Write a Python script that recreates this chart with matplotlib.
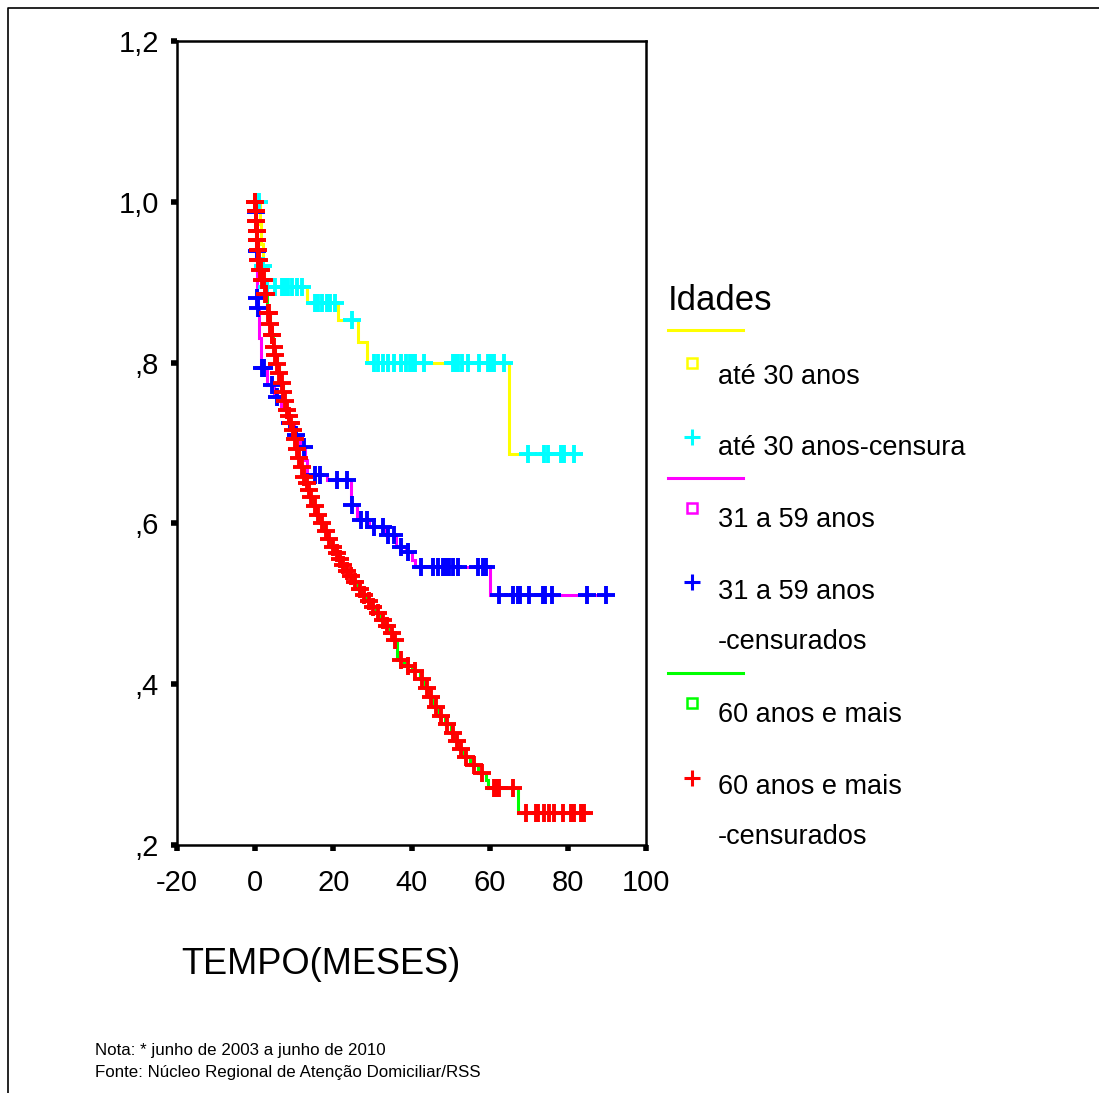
import numpy as np
import matplotlib
matplotlib.use("Agg")
import matplotlib.pyplot as plt

plt.rcParams['font.family'] = ['Liberation Sans', 'DejaVu Sans']

# ---------------- data ----------------
x_ticks = [-20, 0, 20, 40, 60, 80, 100]
x_tick_labels = ["-20", "0", "20", "40", "60", "80", "100"]
y_ticks = [1.2, 1.0, 0.8, 0.6, 0.4, 0.2]
y_tick_labels = ["1,2", "1,0", ",8", ",6", ",4", ",2"]

# até 30 anos : event times and survival after each event
g1_event_t = [1.3, 1.6, 1.9, 2.2, 13.3, 21.3, 26.2, 28.5, 64.9]
g1_event_s = [0.973, 0.947, 0.920, 0.894, 0.874, 0.853, 0.826, 0.800, 0.686]
g1_cens_t = [1.1, 2.0, 3.1, 5.1, 6.9, 7.7, 8.5, 9.5, 10.8, 12.1,
             15.4, 16.2, 17.2, 18.5, 19.2, 20.5, 24.9,
             30.3, 31.5, 32.8, 34.1, 35.4, 37.2, 38.5, 39.7, 40.5, 41.0, 43.1,
             50.5, 51.3, 52.0, 53.0, 54.4, 57.2, 59.5, 60.3, 61.0, 63.6,
             69.7, 73.8, 74.9, 78.2, 79.0, 81.5]

# 31 a 59 anos
g2_event_t = [0.1, 0.2, 0.3, 0.4, 0.5, 0.6, 1.0, 1.5, 3.0, 4.8, 6.5, 8.5,
              10.0, 11.5, 12.8, 13.3, 18.5, 24.4, 26.0, 29.0, 33.5, 36.0,
              38.5, 40.0, 41.0, 60.0]
g2_event_s = [0.987, 0.963, 0.939, 0.910, 0.880, 0.868, 0.830, 0.793, 0.772,
              0.757, 0.741, 0.725, 0.710, 0.695, 0.679, 0.660, 0.654, 0.623,
              0.604, 0.596, 0.586, 0.571, 0.564, 0.555, 0.546, 0.511]
g2_cens_t = [0.15, 0.35, 0.55, 0.8, 1.7, 2.2, 4.4, 5.7, 9.0, 10.5, 12.5,
             15.4, 16.7, 21.0, 23.6, 24.9, 27.0, 28.7, 30.3, 32.8, 34.0,
             35.4, 37.2, 39.0, 42.5, 45.4, 46.7, 48.0, 48.7, 49.5, 50.5,
             51.8, 56.9, 58.2, 59.0, 62.3, 65.9, 67.2, 67.7, 70.0, 73.6,
             74.1, 75.9, 84.9, 89.7]

# 60 anos e mais
g3_event_t = [0.1, 0.2, 0.3, 0.45, 0.6, 0.8, 1.0, 1.6, 2.4, 3.1, 3.7, 4.1,
              4.5, 5.0, 5.5, 6.0, 6.5, 7.0, 7.5, 8.0, 8.5, 9.0, 9.5, 10.0,
              10.5, 11.0, 11.6, 12.3, 12.9, 13.5, 14.0, 14.8, 15.6, 16.5,
              17.5, 18.5, 19.5, 20.5, 21.3, 22.0, 23.0, 24.0, 25.0, 26.2,
              27.3, 28.4, 29.5, 30.8, 32.0, 33.3, 34.6, 35.5, 36.4, 38.0,
              40.0, 42.3, 43.5, 44.5, 45.6, 47.0, 48.5, 50.0, 51.0, 52.2,
              53.3, 55.0, 56.9, 59.0, 59.5, 67.2]
g3_event_s = [0.988, 0.976, 0.964, 0.952, 0.940, 0.928, 0.915, 0.903, 0.885,
              0.862, 0.848, 0.834, 0.820, 0.809, 0.798, 0.787, 0.775, 0.764,
              0.752, 0.741, 0.733, 0.725, 0.716, 0.705, 0.693, 0.681, 0.670,
              0.658, 0.650, 0.641, 0.633, 0.622, 0.611, 0.600, 0.590, 0.581,
              0.571, 0.563, 0.556, 0.548, 0.541, 0.534, 0.527, 0.519, 0.511,
              0.503, 0.496, 0.488, 0.480, 0.472, 0.464, 0.455, 0.430, 0.423,
              0.416, 0.406, 0.395, 0.384, 0.372, 0.361, 0.350, 0.339, 0.329,
              0.319, 0.309, 0.299, 0.289, 0.281, 0.271, 0.240]
g3_cens_t = [0.05, 0.08, 0.15, 0.18, 0.25, 0.28, 0.35, 0.4, 0.5, 0.55, 0.7,
             0.75, 0.85, 0.9, 1.2, 1.4, 1.8, 2.0, 2.2, 2.6, 2.8, 3.2, 3.5,
             3.9, 4.2, 4.4, 4.7, 5.2, 5.7, 6.2, 6.8, 7.2, 7.7, 8.2, 8.7, 9.2,
             9.7, 10.2, 10.8, 11.3, 12.0, 12.6, 13.2, 13.8, 14.4, 15.2, 16.0,
             17.0, 18.0, 19.0, 20.0, 21.0, 21.6, 22.5, 23.5, 24.5, 25.5, 26.7,
             27.8, 29.0, 30.2, 31.4, 32.6, 33.8, 35.0, 35.9, 37.2, 39.0,
             41.0, 42.8, 44.0, 45.0, 46.2, 47.6, 49.2, 50.5, 51.6, 52.7,
             54.0, 56.0, 58.0, 61.0, 62.0, 62.3, 65.9, 69.2, 71.8, 72.3,
             73.8, 75.1, 76.4, 78.7, 80.8, 81.5, 83.3, 84.1]

groups = [
    ("até 30 anos", "até 30 anos-censura", "#FFFF00", "#00FFFF",
     g1_event_t, g1_event_s, g1_cens_t),
    ("31 a 59 anos", "31 a 59 anos\n-censurados", "#FF00FF", "#0000FF",
     g2_event_t, g2_event_s, g2_cens_t),
    ("60 anos e mais", "60 anos e mais\n-censurados", "#00FF00", "#FF0000",
     g3_event_t, g3_event_s, g3_cens_t),
]

# ---------------- figure ----------------
W, H = 1099, 1093
fig = plt.figure(figsize=(W / 100, H / 100), dpi=100)
fig.patch.set_facecolor("white")

ax = fig.add_axes([177 / W, 1 - 845 / H, (646 - 177) / W, (845 - 41) / H])

for name, cname, lc, mc, et, es, ct in groups:
    t_end = max(max(ct), max(et))
    xs = [0.0] + list(et) + [t_end]
    ys = [1.0] + list(es) + [es[-1]]
    ax.step(xs, ys, where="post", color=lc, lw=2.2, zorder=2,
            solid_joinstyle="miter")
    # survival at each censored time from the step function
    steps_t = np.array([0.0] + list(et))
    steps_s = np.array([1.0] + list(es))
    idx = np.searchsorted(steps_t, np.array(ct), side="right") - 1
    ax.plot(ct, steps_s[idx], linestyle="none", marker="+", color=mc,
            markersize=12.5, markeredgewidth=2.8, zorder=3)

ax.set_xlim(-20, 100)
ax.set_ylim(0.2, 1.2)
ax.set_xticks(x_ticks)
ax.set_xticklabels(x_tick_labels)
ax.set_yticks(y_ticks)
ax.set_yticklabels(y_tick_labels)
ax.tick_params(direction="out", length=4, width=4, labelsize=21)
ax.tick_params(axis="x", pad=13)
ax.tick_params(axis="y", pad=9)
for lab in ax.get_yticklabels():
    lab.set_verticalalignment("center_baseline")
for sp in ax.spines.values():
    sp.set_linewidth(1.8)
    sp.set_color("black")

# ---------------- overlay (legend, labels, frame) in pixel coords ----------------
ov = fig.add_axes([0, 0, 1, 1], zorder=-1)
ov.set_xlim(0, W)
ov.set_ylim(H, 0)
ov.axis("off")
ov.patch.set_alpha(0)

# outer frame (left and top edges visible in the reference)
ov.plot([8, 8, W], [H, 8, 8], color="black", lw=1.2)

ov.text(668, 300, "Idades", fontsize=25, va="center", ha="left")

leg_rows = [
    # (line_y, square_y, text_y, cross_y, ctext_y)
    (330, 363, 377, 437, 448),
    (478, 508, 520, 582, 592),
    (673, 703, 715, 778, 787),
]
for (name, cname, lc, mc, et, es, ct), (ly, sy, ty, cy, cty) in zip(groups, leg_rows):
    ov.plot([668, 743], [ly, ly], color=lc, lw=2.2)
    ov.plot([692], [sy], marker="s", markersize=6.5, markerfacecolor="none",
            markeredgecolor=lc, markeredgewidth=1.8, linestyle="none")
    ov.text(718, ty, name, fontsize=19.5, va="center", ha="left")
    ov.plot([692], [cy], marker="+", markersize=12, markeredgewidth=2.2,
            color=mc, linestyle="none")
    for k, ln in enumerate(cname.split("\n")):
        ov.text(718, cty + k * 50, ln, fontsize=19.5, va="center", ha="left")

ov.text(321, 965, "TEMPO(MESES)", fontsize=26, va="center", ha="center")
ov.text(95, 1050, "Nota: * junho de 2003 a junho de 2010", fontsize=12.2,
        va="center", ha="left")
ov.text(95, 1073, "Fonte: Núcleo Regional de Atenção Domiciliar/RSS", fontsize=12.2,
        va="center", ha="left")

fig.savefig("out.png", dpi=100, facecolor="white")
